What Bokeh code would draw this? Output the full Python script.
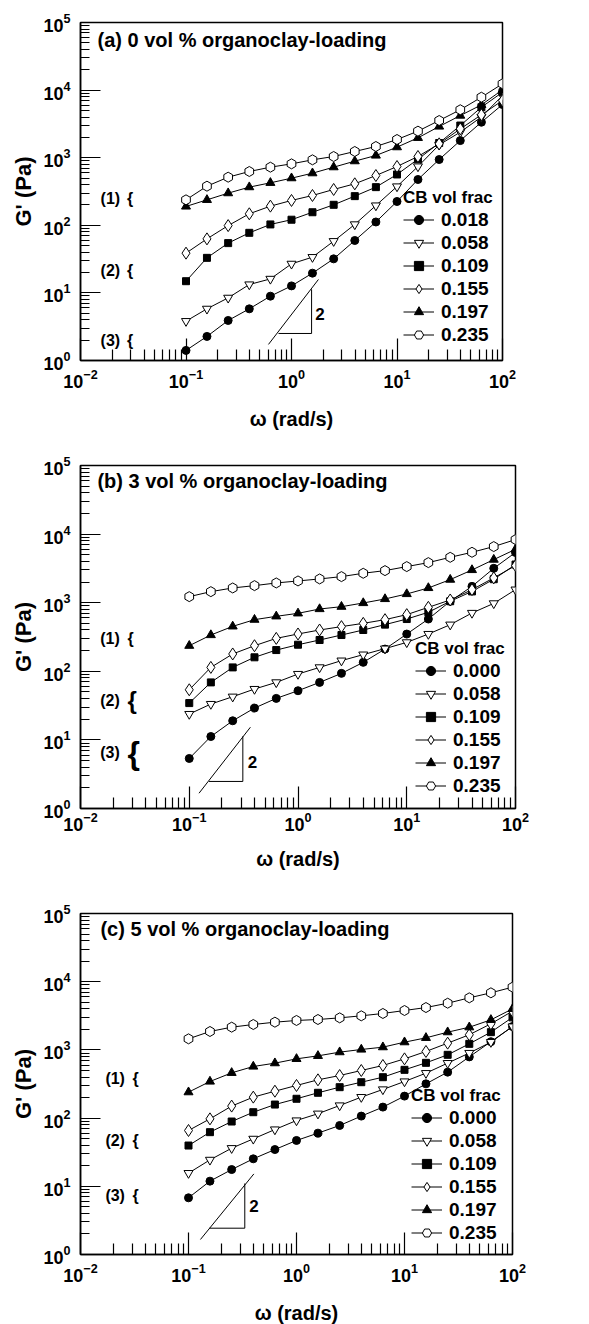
import numpy as np
from bokeh.plotting import figure
from bokeh.models import FixedTicker, Label, Legend, LegendItem, Range1d
from bokeh.layouts import column
from bokeh.embed import file_html
from bokeh.resources import INLINE

# ---------------- data ----------------
omega = [0.1, 0.158, 0.251, 0.398, 0.631, 1.0, 1.58, 2.51, 3.98, 6.31,
         10.0, 15.8, 25.1, 39.8, 63.1, 100.0]

# panel (a) 0 vol % organoclay
a_labels = ["0.018", "0.058", "0.109", "0.155", "0.197", "0.235"]
a_018 = [1.41, 2.27, 3.91, 5.81, 8.95, 12.7, 19.6, 31.9, 59.6, 112, 225, 476, 940, 1790, 3350, 6120]
a_058 = [3.82, 5.81, 8.45, 13.3, 16.1, 26.9, 33.8, 58.2, 103, 196, 375, 741, 1550, 2390, 4000, 8300]
a_109 = [14.9, 33, 54.5, 77.4, 103, 121, 156, 201, 270, 367, 565, 950, 1650, 2990, 5580, 9300]
a_155 = [38.7, 63, 99, 148, 192, 233, 276, 339, 411, 545, 741, 1042, 1604, 2670, 4310, 7000]
a_197 = [190, 238, 299, 367, 425, 498, 590, 724, 889, 1078, 1432, 1968, 2895, 4200, 6050, 10100]
a_235 = [238, 379, 515, 625, 724, 811, 930, 1042, 1236, 1465, 1858, 2470, 3550, 5120, 7850, 12400]

# panel (b) 3 vol % organoclay
b_labels = ["0.000", "0.058", "0.109", "0.155", "0.197", "0.235"]
b_000 = [5.36, 11.2, 19.0, 29.1, 40.3, 52.1, 68.9, 93.3, 135, 211, 349, 578, 1050, 1730, 3170, 5400]
b_058 = [23.8, 33.3, 42.6, 55.1, 68.9, 91.2, 114, 143, 175, 214, 264, 349, 478, 708, 977, 1550]
b_109 = [34.4, 68.9, 114, 160, 204, 244, 286, 338, 400, 479, 578, 725, 1050, 1460, 2200, 3600]
b_155 = [53.8, 114, 179, 236, 302, 350, 400, 448, 500, 566, 670, 856, 1096, 1550, 2300, 3470]
b_197 = [236, 338, 452, 566, 633, 700, 809, 875, 990, 1133, 1340, 1640, 2170, 3000, 4250, 6000]
b_235 = [1225, 1449, 1640, 1773, 1940, 2075, 2220, 2400, 2685, 2937, 3360, 3840, 4590, 5430, 6580, 8320]

# panel (c) 5 vol % organoclay
c_labels = ["0.000", "0.058", "0.109", "0.155", "0.197", "0.235"]
c_000 = [6.78, 11.9, 17.6, 25.3, 34.6, 47, 60.2, 77.9, 107, 145, 210, 318, 472, 790, 1320, 2200]
c_058 = [15.6, 24.4, 36.2, 49.6, 68, 92.2, 116, 153, 203, 263, 344, 456, 640, 900, 1300, 2200]
c_109 = [39.6, 62.2, 89.1, 122, 158, 192, 235, 284, 336, 398, 510, 646, 847, 1227, 1820, 3000]
c_155 = [65.8, 97.5, 150, 203, 248, 301, 364, 421, 499, 591, 739, 948, 1256, 1667, 2415, 3700]
c_197 = [240, 344, 461, 571, 639, 739, 818, 927, 1014, 1097, 1298, 1503, 1820, 2150, 2760, 4000]
c_235 = [1453, 1862, 2155, 2357, 2550, 2700, 2790, 2950, 3160, 3420, 3780, 4180, 4840, 5800, 6870, 8320]

# slope-2 triangles (hypotenuse, legs) in data units
a_hyp_x = [0.605, 1.80]
a_hyp_y = [1.73, 15.8]
a_leg_x = [0.753, 1.55, 1.55]
a_leg_y = [2.51, 2.51, 11.3]
b_hyp_x = [0.123, 0.365]
b_hyp_y = [1.67, 15.3]
b_leg_x = [0.152, 0.311, 0.311]
b_leg_y = [2.48, 2.48, 11.3]
c_hyp_x = [0.129, 0.403]
c_hyp_y = [1.66, 15.2]
c_leg_x = [0.156, 0.332, 0.332]
c_leg_y = [2.43, 2.43, 11.0]

FONT = "Liberation Sans"

STYLES = [
    dict(marker="circle", fill_color="black", size=8, angle=0.0),
    dict(marker="inverted_triangle", fill_color="white", size=9, angle=0.0),
    dict(marker="square", fill_color="black", size=7, angle=0.0),
    dict(marker="diamond", fill_color="white", size=12, angle=0.0),
    dict(marker="triangle", fill_color="black", size=9, angle=0.0),
    dict(marker="hex", fill_color="white", size=10, angle=np.pi / 2),
]

x_major = [10.0 ** e for e in range(-2, 3)]
x_minor = [m * 10.0 ** e for e in range(-2, 2) for m in range(2, 10)]
y_major = [10.0 ** e for e in range(0, 6)]
y_minor = [m * 10.0 ** e for e in range(0, 5) for m in range(2, 10)]


def make_panel(series, labels, title, geom, title_pos, legend_loc,
               group_pos, brace_sizes, hyp, leg, two_pos, xlab_std, xtick_std):
    left, fw, right, top, fh, bottom = geom
    p = figure(x_axis_type="log", y_axis_type="log",
               x_range=Range1d(0.01, 100), y_range=Range1d(1, 1e5),
               frame_width=fw, frame_height=fh,
               min_border_left=left, min_border_right=right,
               min_border_top=top, min_border_bottom=bottom,
               output_backend="svg", toolbar_location=None,
               background_fill_color="white", border_fill_color="white")
    p.xgrid.visible = False
    p.ygrid.visible = False
    p.outline_line_color = "black"
    p.outline_line_width = 1.5

    p.xaxis.ticker = FixedTicker(ticks=x_major, minor_ticks=x_minor)
    p.yaxis.ticker = FixedTicker(ticks=y_major, minor_ticks=y_minor)
    p.xaxis.axis_label = "ω (rad/s)"
    p.yaxis.axis_label = "G' (Pa)"
    for ax in (p.xaxis[0], p.yaxis[0]):
        ax.major_label_text_font = FONT
        ax.major_label_text_font_style = "bold"
        ax.major_label_text_font_size = "18px"
        ax.major_label_text_color = "black"
        ax.axis_label_text_font = FONT
        ax.axis_label_text_font_style = "bold"
        ax.axis_label_text_color = "black"
        ax.major_tick_out = 0
        ax.minor_tick_out = 0
        ax.axis_line_width = 1.5
        ax.major_tick_line_width = 1.2
        ax.minor_tick_line_width = 1.2
    p.xaxis.axis_label_text_font_size = "20px"
    p.yaxis.axis_label_text_font_size = "22px"
    p.xaxis.major_tick_in = 22
    p.xaxis.minor_tick_in = 11
    p.yaxis.major_tick_in = 20
    p.yaxis.minor_tick_in = 9
    p.xaxis.major_label_standoff = xtick_std
    p.xaxis.axis_label_standoff = xlab_std
    p.yaxis.major_label_standoff = 10
    p.yaxis.axis_label_standoff = 4

    items = []
    for vals, lab, st in zip(series, labels, STYLES):
        rl = p.line(omega, vals, line_color="black", line_width=1)
        rs = p.scatter(omega, vals, marker=st["marker"], size=st["size"],
                       angle=st["angle"], fill_color=st["fill_color"],
                       line_color="black", line_width=1)
        items.append(LegendItem(label=lab, renderers=[rl, rs]))

    legend = Legend(items=items, location=legend_loc, title="CB vol frac",
                    label_text_font=FONT, label_text_font_style="bold",
                    label_text_font_size="19px", label_text_color="black",
                    title_text_font=FONT, title_text_font_style="bold",
                    title_text_font_size="17px", title_text_color="black",
                    title_standoff=0,
                    background_fill_alpha=0, border_line_alpha=0,
                    padding=0, margin=0, spacing=0,
                    glyph_width=31, glyph_height=23, label_height=21,
                    label_standoff=7)
    p.add_layout(legend)

    p.add_layout(Label(x=title_pos[0], y=title_pos[1], text=title,
                       text_font=FONT, text_font_style="bold",
                       text_font_size="20px", text_baseline="middle",
                       text_align="left", text_color="black"))

    for (gx, gy), txt, bs in zip(group_pos, ["(1)", "(2)", "(3)"], brace_sizes):
        p.add_layout(Label(x=gx, y=gy, text=txt, text_font=FONT,
                           text_font_style="bold", text_font_size="16px",
                           text_baseline="middle", text_align="left",
                           text_color="black"))
        p.add_layout(Label(x=gx * 1.78, y=gy, text="{", text_font=FONT,
                           text_font_style="bold", text_font_size=bs,
                           text_baseline="middle", text_align="left",
                           text_color="black"))

    p.line(hyp[0], hyp[1], line_color="black", line_width=1)
    p.line(leg[0], leg[1], line_color="black", line_width=1)
    p.add_layout(Label(x=two_pos[0], y=two_pos[1], text="2", text_font=FONT,
                       text_font_style="bold", text_font_size="17px",
                       text_baseline="middle", text_align="left",
                       text_color="black"))
    return p


pa = make_panel([a_018, a_058, a_109, a_155, a_197, a_235], a_labels,
                "(a) 0 vol % organoclay-loading",
                (80, 422, 87, 22, 338, 80), (0.0145, 56000), (323, 14),
                [(0.0155, 249), (0.0155, 21.4), (0.0155, 1.98)],
                ["16px", "16px", "16px"],
                (a_hyp_x, a_hyp_y), (a_leg_x, a_leg_y), (1.68, 4.95), 17, 8)

pb = make_panel([b_000, b_058, b_109, b_155, b_197, b_235], b_labels,
                "(b) 3 vol % organoclay-loading",
                (73, 435, 81, 25, 343, 72), (0.0143, 58500), (335, 11),
                [(0.0152, 301), (0.0152, 37.5), (0.0152, 6.55)],
                ["16px", "24px", "32px"],
                (b_hyp_x, b_hyp_y), (b_leg_x, b_leg_y), (0.345, 4.77), 14, 3)

pc = make_panel([c_000, c_058, c_109, c_155, c_197, c_235], c_labels,
                "(c) 5 vol % organoclay-loading",
                (75, 432, 82, 33, 341, 70), (0.0153, 60200), (331, 10),
                [(0.017, 381), (0.017, 47), (0.017, 7.33)],
                ["16px", "16px", "16px"],
                (c_hyp_x, c_hyp_y), (c_leg_x, c_leg_y), (0.365, 5.2), 17, 8)

layout = column(pa, pb, pc, spacing=0)
open("out.html", "w").write(file_html(layout, INLINE))
